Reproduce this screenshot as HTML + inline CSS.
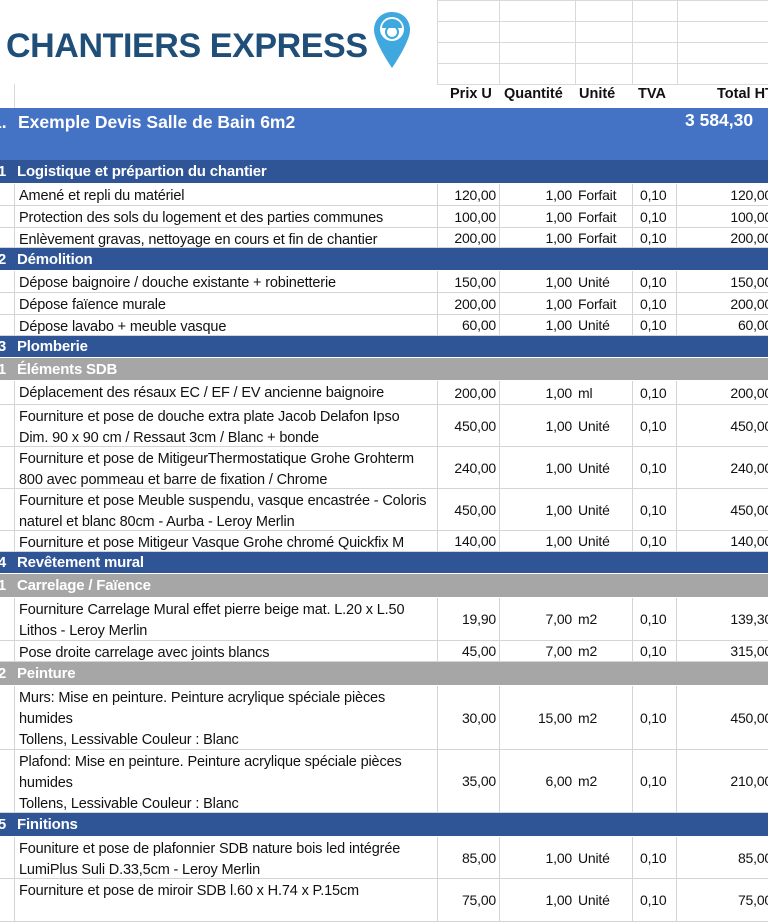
<!DOCTYPE html>
<html><head><meta charset="utf-8">
<style>
html,body{margin:0;padding:0;width:768px;height:922px;overflow:hidden;background:#fff;font-family:"Liberation Sans",sans-serif;}
#sheet{position:relative;width:768px;height:922px;overflow:hidden;}
.r{position:absolute;left:0;width:790px;box-sizing:border-box;border-bottom:1px solid #d4d4d4;}
.c{position:absolute;top:0;bottom:0;box-sizing:border-box;font-size:14px;color:#111;white-space:nowrap;display:flex;align-items:center;letter-spacing:-0.2px}
.bl{border-left:1px solid #d4d4d4}
.num{justify-content:flex-end;padding-right:3px}
.desc{display:block;padding:2px 0 0 4px;line-height:21px;font-size:14.5px;letter-spacing:-0.15px}
.band .c{color:#fff;font-weight:bold;font-size:15px;border:none}
.hdr{position:absolute;font-weight:bold;font-size:14.5px;color:#111;top:86px;white-space:nowrap}
.grid{position:absolute;background:#d9d9d9}
</style></head><body>
<div id="sheet">
  <div style="position:absolute;left:6px;top:27px;font-size:34px;font-weight:bold;color:#1f4e79;letter-spacing:-0.4px;white-space:nowrap">CHANTIERS EXPRESS</div>
  <svg style="position:absolute;left:372px;top:10px" width="40" height="60" viewBox="0 0 40 60">
    <path d="M20 2C9 2 2 10 2 20c0 12 18 38 18 38s18-26 18-38C38 10 31 2 20 2z" fill="#3fa9df"/>
    <circle cx="20" cy="19" r="12" fill="#fff"/>
    <path d="M10 18a10 9 0 0 1 20 0z" fill="#3fa9df"/>
    <circle cx="20" cy="22" r="6" fill="none" stroke="#3fa9df" stroke-width="2"/>
  </svg>
  <div id="topgrid"></div>
  <div class="hdr" style="left:450px">Prix U</div>
  <div class="hdr" style="left:504px">Quantité</div>
  <div class="hdr" style="left:579px">Unité</div>
  <div class="hdr" style="left:638px">TVA</div>
  <div class="hdr" style="left:717px">Total HT</div>
  <div style="position:absolute;left:0;top:108px;width:768px;height:52px;background:#4472c4">
    <div style="position:absolute;left:-8px;top:4px;color:#fff;font-weight:bold;font-size:17.5px">1.</div>
    <div style="position:absolute;left:18px;top:4px;color:#fff;font-weight:bold;font-size:17.5px">Exemple Devis Salle de Bain 6m2</div>
    <div style="position:absolute;left:685px;top:2px;color:#fff;font-weight:bold;font-size:17.5px;white-space:nowrap">3 584,30</div>
  </div>
  <div id="rows"></div>
</div>
<script>
const kinds=["S","I","I","I","S","I","I","I","S","G","I","I","I","I","I","S","G","I","I","G","I","I","S","I","I"];
const tops=[160,184,206,228,248,271,293,315,336,358,381,405,447,489,531,552,574,598,641,662,686,750,813,837,879];
const bottoms=[184,206,228,248,271,293,315,336,358,381,405,447,489,531,552,574,598,641,662,686,750,813,837,879,922];
const prefixes=["1.1","","","","1.2","","","","1.3","1.3.1","","","","","","1.4","1.4.1","","","1.4.2","","","1.5","",""];
const labels=[
"Logistique et prépartion du chantier",
"Amené et repli du matériel",
"Protection des sols du logement et des parties communes",
"Enlèvement gravas, nettoyage en cours et fin de chantier",
"Démolition",
"Dépose baignoire / douche existante + robinetterie",
"Dépose faïence murale",
"Dépose lavabo + meuble vasque",
"Plomberie",
"Éléments SDB",
"Déplacement des résaux EC / EF / EV ancienne baignoire",
"Fourniture et pose de douche extra plate  Jacob Delafon Ipso|Dim. 90 x 90 cm / Ressaut 3cm / Blanc + bonde",
"Fourniture et pose de MitigeurThermostatique  Grohe Grohterm|800 avec pommeau et barre de fixation / Chrome",
"Fourniture et pose Meuble suspendu, vasque encastrée - Coloris|naturel et blanc 80cm - Aurba - Leroy Merlin",
"Fourniture et pose Mitigeur Vasque Grohe chromé Quickfix M",
"Revêtement mural",
"Carrelage / Faïence",
"Fourniture Carrelage Mural effet pierre beige mat. L.20 x L.50|Lithos - Leroy Merlin",
"Pose droite carrelage avec joints blancs",
"Peinture",
"Murs: Mise en peinture. Peinture acrylique spéciale pièces|humides|Tollens, Lessivable Couleur : Blanc",
"Plafond: Mise en peinture. Peinture acrylique spéciale pièces|humides|Tollens, Lessivable Couleur : Blanc",
"Finitions",
"Founiture et pose de plafonnier SDB nature bois led intégrée|LumiPlus Suli D.33,5cm - Leroy Merlin",
"Fourniture et pose de miroir SDB l.60 x H.74 x P.15cm"];
const prices=["","120,00","100,00","200,00","","150,00","200,00","60,00","","","200,00","450,00","240,00","450,00","140,00","","","19,90","45,00","","30,00","35,00","","85,00","75,00"];
const qtys=["","1,00","1,00","1,00","","1,00","1,00","1,00","","","1,00","1,00","1,00","1,00","1,00","","","7,00","7,00","","15,00","6,00","","1,00","1,00"];
const units=["","Forfait","Forfait","Forfait","","Unité","Forfait","Unité","","","ml","Unité","Unité","Unité","Unité","","","m2","m2","","m2","m2","","Unité","Unité"];
const tvas=["","0,10","0,10","0,10","","0,10","0,10","0,10","","","0,10","0,10","0,10","0,10","0,10","","","0,10","0,10","","0,10","0,10","","0,10","0,10"];
const totals=["","120,00","100,00","200,00","","150,00","200,00","60,00","","","200,00","450,00","240,00","450,00","140,00","","","139,30","315,00","","450,00","210,00","","85,00","75,00"];

const tg=document.getElementById('topgrid');
[0,21,42,63,84].forEach(y=>{const d=document.createElement('div');d.className='grid';d.style.cssText+='left:437px;width:331px;height:1px;top:'+y+'px';


tg.appendChild(d);});
[437,499,575,632,677].forEach(x=>{const d=document.createElement('div');d.className='grid';d.style.cssText+='top:0;height:84px;width:1px;left:'+x+'px';


tg.appendChild(d);});
{const d=document.createElement('div');d.className='grid';d.style.cssText+='top:84px;height:24px;width:1px;left:14px';


tg.appendChild(d);}

const host=document.getElementById('rows');
function cell(row,l,w,txt,cls){const c=document.createElement('div');c.className='c '+cls;c.style.left=l+'px';c.style.width=w+'px';c.innerHTML=txt;row.appendChild(c);return c;}
for(let i=0;i<labels.length;i++){
  const r=document.createElement('div');r.className='r';
  r.style.top=tops[i]+'px';r.style.height=(bottoms[i]-tops[i])+'px';
  const k=kinds[i];
  if(k!=='I'){
    r.classList.add('band');
    r.style.background=k==='S'?'#2f5597':'#a6a6a6';
    r.style.borderBottom='1px solid #fff';
    
    
    const p=cell(r,-34,40,prefixes[i],'num');p.style.paddingRight='0';
    cell(r,17,500,labels[i],'');
  } else {
    
    
    const lines=labels[i].split('|');
    cell(r,14,423,lines.join('<br>'),'bl desc');
    cell(r,437,62,prices[i],'bl num');
    cell(r,499,76,qtys[i],'bl num');
    const u=cell(r,575,57,units[i],'');u.style.paddingLeft='3px';
    const t=cell(r,632,45,tvas[i],'bl');t.style.paddingLeft='7px';
    t.style.borderRight='1px solid #d4d4d4';
    const tt=cell(r,677,95,totals[i],'num');tt.style.paddingRight='0';
  }
  host.appendChild(r);
}
</script>
</body></html>
